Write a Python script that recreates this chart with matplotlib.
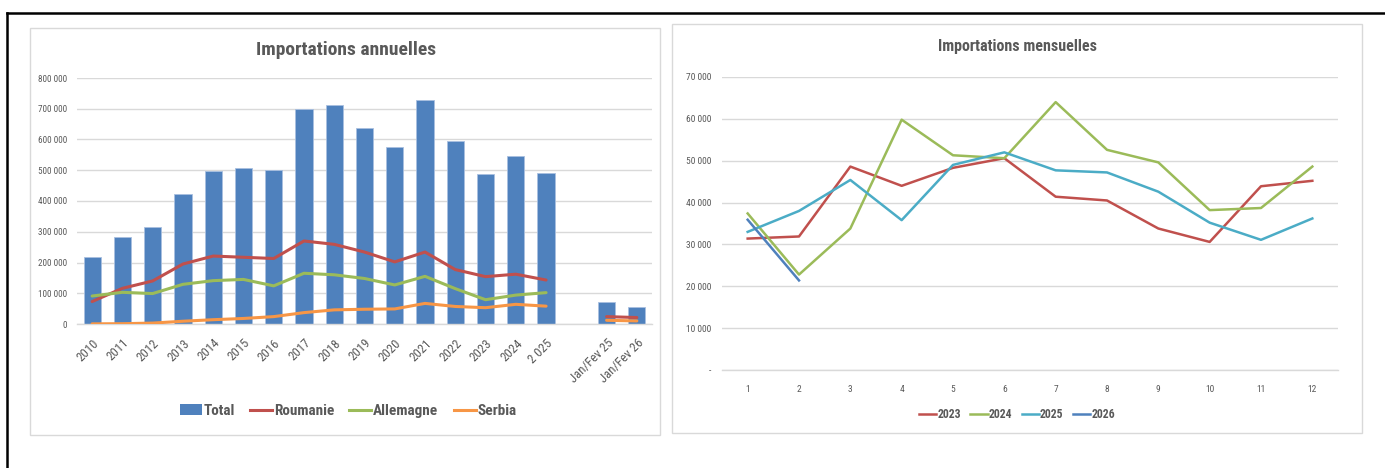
import numpy as np
import matplotlib
matplotlib.use("Agg")
import matplotlib.pyplot as plt
from matplotlib import font_manager
from matplotlib.patches import Rectangle, Patch
from matplotlib.lines import Line2D
from matplotlib.ticker import FixedLocator, FuncFormatter

# ---------------- data ----------------
annual_labels = ['2010', '2011', '2012', '2013', '2014', '2015', '2016', '2017', '2018',
                 '2019', '2020', '2021', '2022', '2023', '2024', '2 025', '',
                 'Jan/Fev 25', 'Jan/Fev 26']
nan = np.nan
total = [217000, 283000, 314000, 422000, 499000, 507000, 502000, 699000, 713000,
         637000, 576000, 728000, 594000, 487000, 545000, 491000, nan, 70000, 55500]
roumanie = [73000, 116000, 140000, 195000, 221000, 217000, 213000, 270000, 259000,
            234000, 202000, 234000, 177000, 154000, 162000, 143000, nan, 24000, 21000]
allemagne = [91000, 103000, 99000, 129000, 141000, 145000, 124000, 165000, 160000,
             148000, 127000, 155000, 115000, 79000, 94000, 102000, nan, nan, nan]
serbia = [500, 1000, 3000, 9000, 14000, 18000, 24000, 37000, 46000,
          48000, 49000, 67000, 57000, 53000, 64000, 58000, nan, 12000, 10000]

months = [1, 2, 3, 4, 5, 6, 7, 8, 9, 10, 11, 12]
m2023 = [31400, 31900, 48600, 44000, 48300, 50600, 41400, 40500, 33800, 30600, 43900, 45200]
m2024 = [37400, 22800, 33800, 59800, 51300, 50600, 64000, 52600, 49600, 38200, 38700, 48600]
m2025 = [33000, 38000, 45400, 35800, 49000, 52000, 47700, 47200, 42600, 35200, 31100, 36200]
m2026 = [35900, 21400]

# ---------------- style ----------------
avail = {f.name for f in font_manager.fontManager.ttflist}
def pick(cands):
    for c in cands:
        if c in avail:
            return c
    return 'DejaVu Sans'
NARROW = pick(['Liberation Sans Narrow', 'DejaVu Sans Condensed', 'Roboto Condensed',
               'Open Sans Condensed', 'Roboto', 'Open Sans'])
nf = 1.0 if ('Narrow' in NARROW or 'Condensed' in NARROW) else 0.85
plt.rcParams['font.family'] = [NARROW, 'DejaVu Sans']

TXT = '#595959'
GRID = '#d9d9d9'
C_TOTAL = '#4F81BD'
C_ROU = '#C0504D'
C_ALL = '#9BBB59'
C_SER = '#F79646'
C_2025 = '#4BACC6'

W, H = 1385, 468
fig = plt.figure(figsize=(W / 100, H / 100), dpi=100)
fig.patch.set_facecolor('white')

def fx(x):
    return x / W
def fy(y):
    return 1 - y / H

# outer black frame (top and left)
fig.add_artist(Line2D([fx(7), fx(W)], [fy(13), fy(13)], color='black', lw=1.8))
fig.add_artist(Line2D([fx(7), fx(7)], [fy(13), fy(H)], color='black', lw=1.8))

# panel boxes
for (x0, y0, x1, y1) in [(30, 28, 660, 435), (672, 24, 1362, 433)]:
    fig.add_artist(Rectangle((fx(x0), fy(y1)), fx(x1 - x0), (y1 - y0) / H,
                             transform=fig.transFigure, facecolor='white',
                             edgecolor=GRID, lw=1.0, zorder=0))

def style_axes(ax):
    for s in ['top', 'right', 'left']:
        ax.spines[s].set_visible(False)
    ax.spines['bottom'].set_color(GRID)
    ax.spines['bottom'].set_linewidth(1.0)
    ax.grid(axis='y', color=GRID, lw=1.0)
    ax.set_axisbelow(True)
    ax.tick_params(length=0, colors=TXT)
    ax.set_facecolor('none')

def sp(v):
    return f"{int(round(v)):,}".replace(',', ' ')

# ---------------- left chart ----------------
axL = fig.add_axes([fx(77), fy(324), fx(652 - 77), (324 - 78) / H])
style_axes(axL)
x = np.arange(len(annual_labels))
axL.bar(x, total, width=0.57, color=C_TOTAL, edgecolor='#A9C0E0', lw=0.6, zorder=2)
axL.plot(x, roumanie, color=C_ROU, lw=2.2, zorder=3, solid_capstyle='round')
axL.plot(x, allemagne, color=C_ALL, lw=2.2, zorder=3, solid_capstyle='round')
axL.plot(x, serbia, color=C_SER, lw=2.2, zorder=3, solid_capstyle='round')
axL.set_xlim(-0.5, len(annual_labels) - 0.5)
axL.set_ylim(0, 800000)
axL.yaxis.set_major_locator(FixedLocator(np.arange(0, 800001, 100000)))
axL.yaxis.set_major_formatter(FuncFormatter(lambda v, p: sp(v)))
axL.tick_params(axis='y', labelsize=6.6 * nf, pad=7)
axL.set_xticks(x)
axL.set_xticklabels(annual_labels, rotation=45, ha='right', va='top',
                    rotation_mode='anchor', fontsize=9.2 * nf)
axL.tick_params(axis='x', pad=9)
fig.text(fx(346), fy(50), 'Importations annuelles', ha='center', va='center',
         fontsize=14 * nf, fontweight='bold', color=TXT)

handlesL = [Patch(facecolor=C_TOTAL, edgecolor='none'),
            Line2D([], [], color=C_ROU, lw=2.2),
            Line2D([], [], color=C_ALL, lw=2.2),
            Line2D([], [], color=C_SER, lw=2.2)]
legL = fig.legend(handlesL, ['Total', 'Roumanie', 'Allemagne', 'Serbia'],
                  loc='center', bbox_to_anchor=(fx(348), fy(411)), ncol=4,
                  frameon=False, handlelength=1.45, handleheight=0.75,
                  handletextpad=0.1, columnspacing=1.0,
                  prop={'size': 11 * nf, 'weight': 'bold'})
for t in legL.get_texts():
    t.set_color(TXT)

# ---------------- right chart ----------------
axR = fig.add_axes([fx(722), fy(370), fx(1338 - 722), (370 - 77) / H])
style_axes(axR)
axR.plot(months, m2023, color=C_ROU, lw=1.8, zorder=3)
axR.plot(months, m2024, color=C_ALL, lw=1.8, zorder=3)
axR.plot(months, m2025, color=C_2025, lw=1.8, zorder=3)
axR.plot(months[:len(m2026)], m2026, color=C_TOTAL, lw=1.8, zorder=3)
axR.set_xlim(0.5, 12.5)
axR.set_ylim(0, 70000)
axR.yaxis.set_major_locator(FixedLocator(np.arange(0, 70001, 10000)))
axR.yaxis.set_major_formatter(FuncFormatter(lambda v, p: '-' if v == 0 else sp(v)))
axR.tick_params(axis='y', labelsize=6.8 * nf, pad=8)
axR.set_xticks(months)
axR.set_xticklabels([str(m) for m in months])
axR.tick_params(axis='x', labelsize=6.8 * nf, pad=11)
fig.text(fx(1017), fy(46), 'Importations mensuelles', ha='center', va='center',
         fontsize=11.5 * nf, fontweight='bold', color=TXT)

handlesR = [Line2D([], [], color=c, lw=1.8) for c in [C_ROU, C_ALL, C_2025, C_TOTAL]]
legR = fig.legend(handlesR, ['2023', '2024', '2025', '2026'],
                  loc='center', bbox_to_anchor=(fx(1017), fy(415)), ncol=4,
                  frameon=False, handlelength=1.45, handletextpad=0.1,
                  columnspacing=0.8,
                  prop={'size': 8.5 * nf, 'weight': 'bold'})
for t in legR.get_texts():
    t.set_color(TXT)

fig.savefig('out.png', dpi=100)
